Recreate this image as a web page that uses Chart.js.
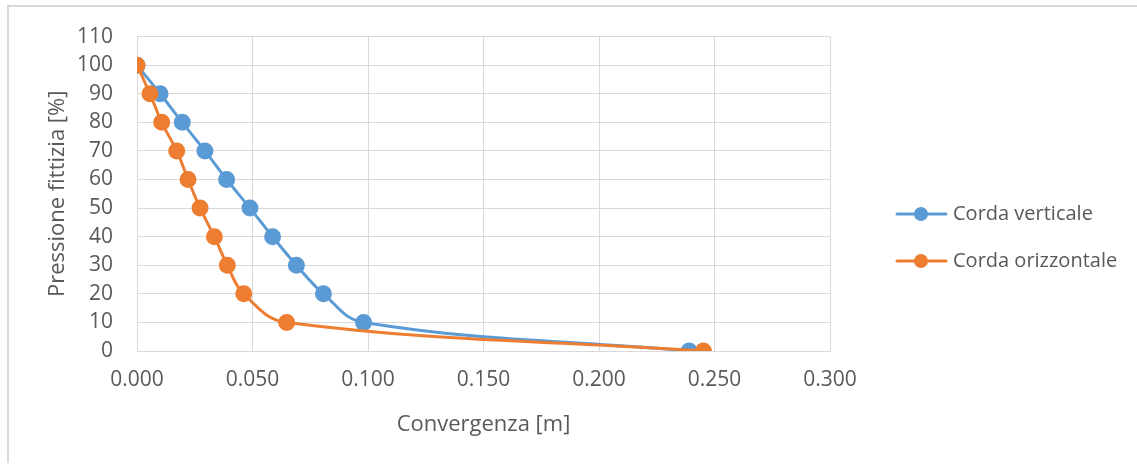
<!DOCTYPE html>
<html>
<head>
<meta charset="utf-8">
<script src="https://cdn.jsdelivr.net/npm/chart.js@4"></script>
<style>
html,body{margin:0;padding:0;background:#fff;}
#wrap{position:relative;width:1137px;height:466px;}
#frame{position:absolute;left:7px;top:5px;right:0;bottom:3px;border-top:2px solid #d9d9d9;border-left:2px solid #d9d9d9;}
canvas{position:absolute;left:0;top:0;}
</style>
</head>
<body>
<div id="wrap"><div id="frame"></div><canvas id="c" width="1137" height="466"></canvas></div>
<script>
// Data
let pressure=[100,90,80,70,60,50,40,30,20,10,0];
let convVerticale=[0,0.0100,0.0196,0.0294,0.0388,0.0489,0.0587,0.0690,0.0807,0.0981,0.2390];
let convOrizzontale=[0,0.0056,0.0107,0.0172,0.0221,0.0273,0.0335,0.0391,0.0462,0.0648,0.2452];
let seriesNames=["Corda verticale","Corda orizzontale"];
let seriesColors=["#5B9BD5","#ED7D31"];

let grey="#595959", font="'Open Sans', sans-serif";

function pts(xs){return xs.map((x,i)=>({x:x,y:pressure[i]}));}

// Legend drawn like Excel (line + marker)
let excelLegend={id:"excelLegend",afterDraw(chart){
    let ctx=chart.ctx;
    chart.data.datasets.forEach((ds,i)=>{
        let y=214+i*47;
        ctx.save();
        ctx.strokeStyle=ds.borderColor; ctx.lineWidth=3; ctx.lineCap="round";
        ctx.beginPath(); ctx.moveTo(897,y); ctx.lineTo(946,y); ctx.stroke();
        ctx.fillStyle=ds.backgroundColor; ctx.beginPath(); ctx.arc(921,y,7,0,Math.PI*2); ctx.fill();
        ctx.fillStyle=grey; ctx.font="20px "+font; ctx.textAlign="left"; ctx.textBaseline="middle";
        ctx.fillText(ds.label,953,y);
        ctx.restore();
    });
}};

let ctx=document.getElementById("c").getContext("2d");
let chart=new Chart(ctx,{
    type:"scatter",
    data:{datasets:[
        {label:seriesNames[0],data:pts(convVerticale),order:1,borderColor:seriesColors[0],backgroundColor:seriesColors[0],showLine:true,tension:0.4,borderWidth:3,pointRadius:7,pointHoverRadius:7},
        {label:seriesNames[1],data:pts(convOrizzontale),order:0,borderColor:seriesColors[1],backgroundColor:seriesColors[1],showLine:true,tension:0.4,borderWidth:3,pointRadius:7,pointHoverRadius:7}
    ]},
    options:{
        responsive:false,animation:false,
        layout:{padding:{left:0,right:307,top:35,bottom:0}},
        plugins:{legend:{display:false},tooltip:{enabled:false}},
        scales:{
            x:{type:"linear",min:0,max:0.3,
                ticks:{stepSize:0.05,color:grey,font:{family:font,size:21},padding:16,callback:v=>v.toFixed(3)},
                grid:{color:"#d9d9d9",lineWidth:1,drawTicks:false},border:{color:"#d9d9d9"},
                title:{display:true,text:"Convergenza [m]",color:grey,font:{family:font,size:22},padding:{top:0,bottom:28}},
                afterFit(s){s.height=115;}
            },
            y:{type:"linear",min:0,max:110,
                ticks:{stepSize:10,color:grey,font:{family:font,size:21},padding:24},
                grid:{color:"#d9d9d9",lineWidth:1,drawTicks:false},border:{color:"#d9d9d9"},
                title:{display:true,text:"Pressione fittizia [%]",color:grey,font:{family:font,size:22},padding:{top:45,bottom:0}},
                afterFit(s){s.width=137;}
            }
        }
    },
    plugins:[excelLegend]
});
</script>
</body>
</html>
